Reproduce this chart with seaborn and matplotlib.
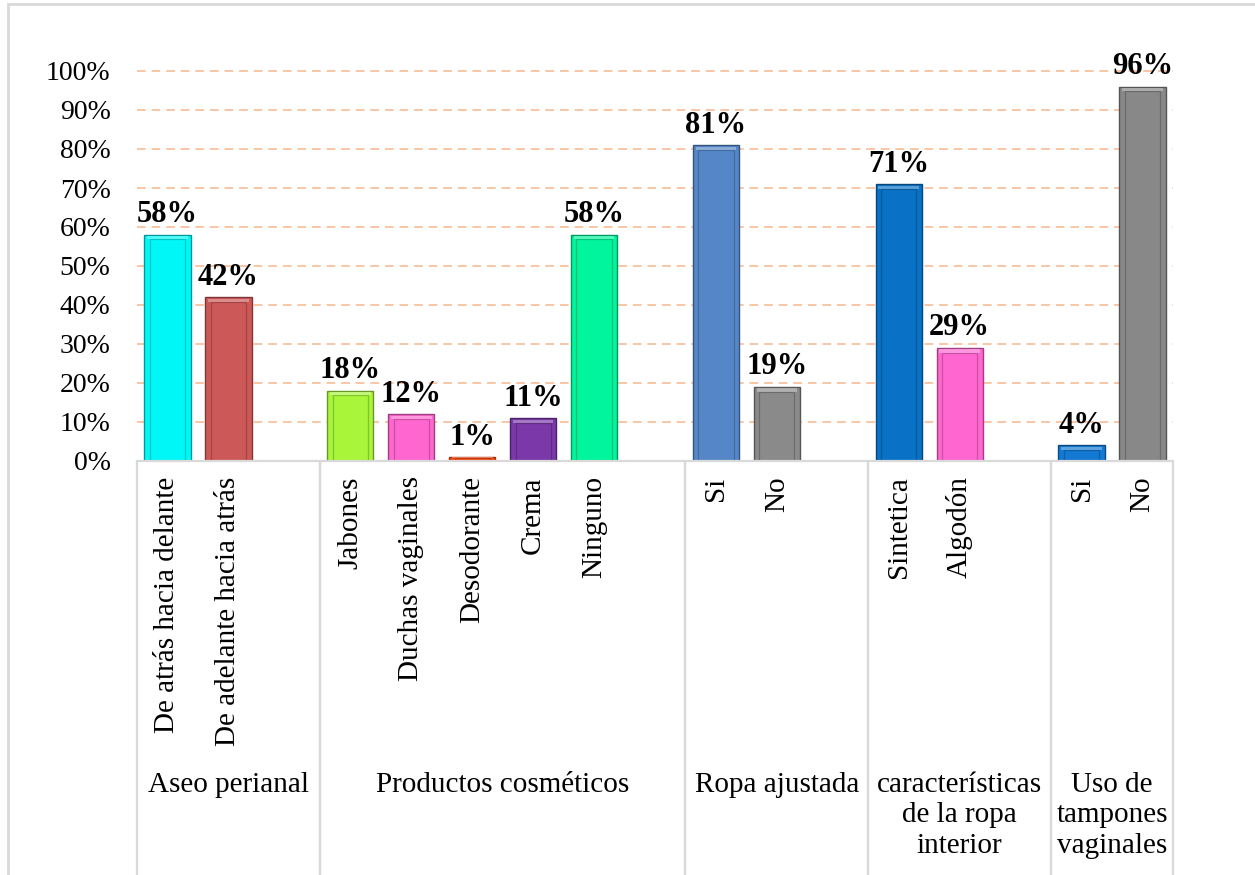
import matplotlib
matplotlib.use("Agg")
import matplotlib.pyplot as plt
import matplotlib.colors as mcolors
from matplotlib.patches import Rectangle
from matplotlib.lines import Line2D
import seaborn as sns
import pandas as pd

# ---- data -------------------------------------------------------------
groups = ["Aseo perianal", "Productos cosméticos", "Ropa ajustada",
          "características\nde la ropa\ninterior", "Uso de\ntampones\nvaginales"]
categories = [
    ["De atrás hacia delante", "De adelante hacia atrás"],
    ["Jabones", "Duchas vaginales", "Desodorante", "Crema", "Ninguno"],
    ["Si", "No"],
    ["Sintetica", "Algodón"],
    ["Si", "No"],
]
values = [
    [58, 42],
    [18, 12, 1, 11, 58],
    [81, 19],
    [71, 29],
    [4, 96],
]
colors = [
    ["#00F7F7", "#CD5858"],
    ["#A8F53A", "#FF66D0", "#FF4A12", "#7A38A8", "#00F59C"],
    ["#5587C8", "#8A8A8A"],
    ["#0A72C6", "#FF66D0"],
    ["#1379D2", "#888888"],
]
y_ticks = [0, 10, 20, 30, 40, 50, 60, 70, 80, 90, 100]

# ---- build slot order (one blank slot after each group except the last) --
rows, order, tick_text, palette = [], [], [], {}
group_span = []
for g, (cats, vals, cols) in enumerate(zip(categories, values, colors)):
    start = len(order)
    for c, v, col in zip(cats, vals, cols):
        key = f"{g}|{c}"
        rows.append({"slot": key, "pct": v / 100})
        order.append(key)
        tick_text.append(c)
        palette[key] = col
    if g < len(categories) - 1:
        order.append(f"{g}|gap")
        tick_text.append("")
    group_span.append((start - 0.5, len(order) - 0.5))
df = pd.DataFrame(rows)

# ---- figure -------------------------------------------------------------
sns.set_theme(style="white")
plt.rcParams["font.family"] = ["Liberation Serif", "DejaVu Serif"]

W, H = 1255, 875
fig = plt.figure(figsize=(W / 100, H / 100), dpi=100)
x0, x1, y_base, y_top = 137, 1173, 461, 71
ax = fig.add_axes([x0 / W, 1 - y_base / H, (x1 - x0) / W, (y_base - y_top) / H])

sns.barplot(data=df, x="slot", y="pct", hue="slot", order=order,
            palette=palette, legend=False, width=0.76, ax=ax,
            saturation=1, errorbar=None)

ax.set_xlim(-0.5, len(order) - 0.5)
ax.set_ylim(0, 1)
ax.set_xlabel("")
ax.set_ylabel("")

# bevelled look on each bar
for p in ax.patches:
    fc = mcolors.to_rgb(p.get_facecolor())
    dark = tuple(c * 0.62 for c in fc)
    light = tuple(min(1, c + (1 - c) * 0.45) for c in fc)
    p.set_edgecolor(dark)
    p.set_linewidth(1.0)
    bx, by, bw, bh = p.get_x(), p.get_y(), p.get_width(), p.get_height()
    inset = bw * 0.12
    ih = min(0.012, bh * 0.3)
    ax.add_patch(Rectangle((bx + inset, by), bw - 2 * inset, max(bh - ih, 0),
                           fill=False, edgecolor=dark, linewidth=0.9, alpha=0.55))
    ax.add_patch(Rectangle((bx + inset * 0.5, by + bh - ih), bw - inset, ih * 0.7,
                           facecolor=light, edgecolor="none", alpha=0.7))
    # value label
    ax.annotate(f"{round(bh * 100):d}%", (bx + bw / 2, by + bh),
                xytext=(0, 4), textcoords="offset points",
                ha="center", va="bottom", fontsize=22, fontweight="bold",
                color="black", annotation_clip=False)

# y axis
ax.set_yticks([t / 100 for t in y_ticks])
ax.set_yticklabels([f"{t}%" for t in y_ticks], fontsize=20, color="black")
ax.tick_params(axis="y", length=0, pad=19)
for t in y_ticks[1:]:
    ax.axhline(t / 100, color="#F7C6A6", linewidth=1.4, linestyle=(0, (4.5, 3)),
               zorder=0, clip_on=False)

# x axis: rotated category names
ax.set_xticks(range(len(order)))
ax.set_xticklabels(tick_text, rotation=90, fontsize=21, color="black",
                   ha="center", va="top")
ax.tick_params(axis="x", length=0, pad=11)

for s in ["top", "right", "left"]:
    ax.spines[s].set_visible(False)
ax.spines["bottom"].set_color("#D9D9D9")
ax.spines["bottom"].set_linewidth(1.6)
ax.set_axisbelow(True)

# group separators and group names below the axis
for (a, b), name in zip(group_span, groups):
    for xv in (a, b):
        xp = x0 + (xv + 0.5) / len(order) * (x1 - x0)
        fig.add_artist(Line2D([xp / W, xp / W], [1 - y_base / H, 0],
                              transform=fig.transFigure, color="#D9D9D9",
                              linewidth=1.6))
    xc = x0 + ((a + b) / 2 + 0.5) / len(order) * (x1 - x0)
    fig.text(xc / W, 1 - 772 / H, name, ha="center", va="top",
             fontsize=21, linespacing=1.22, color="black")

# outer chart frame
fig.add_artist(Rectangle((8 / W, -0.2), 1.5, 1.2 - 4 / H + 0.0,
                         transform=fig.transFigure, fill=False,
                         edgecolor="#D9D9D9", linewidth=2))

fig.savefig("out.png", dpi=100)
